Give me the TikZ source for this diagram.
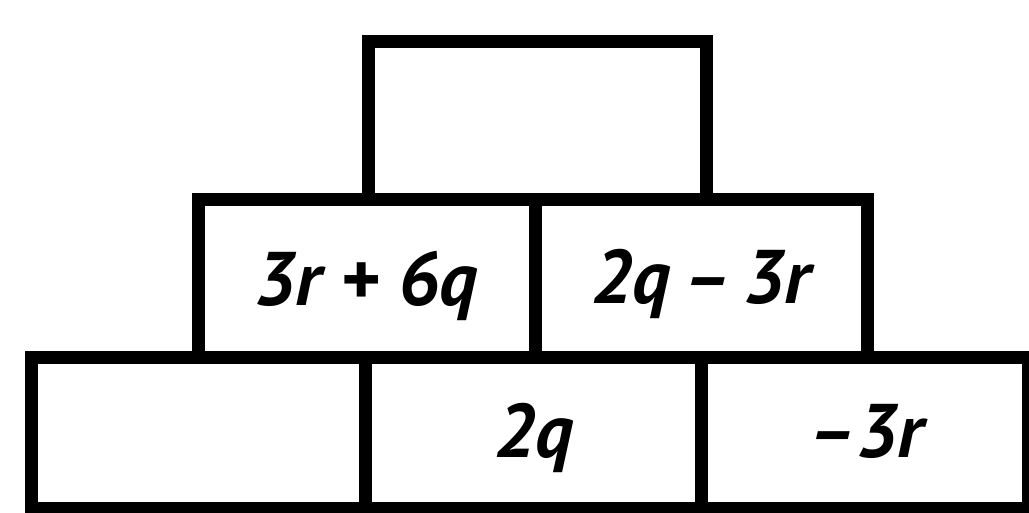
\documentclass[tikz,border=0pt]{standalone}
\usepackage{fontspec}
\setmainfont{PT Sans}
\begin{document}
\begin{tikzpicture}[x=1pt,y=1pt,
  cell/.style={draw=black, line width=13pt, rectangle, inner sep=0pt, line join=miter},
  lbl/.style={inner sep=0pt, anchor=base, font=\fontsize{76}{80}\selectfont\bfseries\itshape},
]
\useasboundingbox (0,0) rectangle (1029,513);
% top: x 368..706, y 42..200
\node[cell, minimum width=338pt, minimum height=158pt] (top) at (537,392) {};
% middle: y 200..358 ; x 198..535..867
\node[cell, minimum width=337pt, minimum height=158pt] (ml) at (366.5,234) {};
\node[cell, minimum width=332pt, minimum height=158pt] (mr) at (701,234) {};
% bottom: y 358..509 ; x 31..365..701..1028
\node[cell, minimum width=334pt, minimum height=151pt] (bl) at (198,79.5) {};
\node[cell, minimum width=336pt, minimum height=151pt] (bm) at (533,79.5) {};
\node[cell, minimum width=327pt, minimum height=151pt] (br) at (864.5,79.5) {};
\node[lbl] (t1) at (366,207) {3r + 6q};
\node[lbl] (t2) at (701,209) {2q\,–\,3r};
\node[lbl] (t3) at (534,55) {2q};
\node[lbl] (t4) at (866,55) {–3r};
\end{tikzpicture}
\end{document}
